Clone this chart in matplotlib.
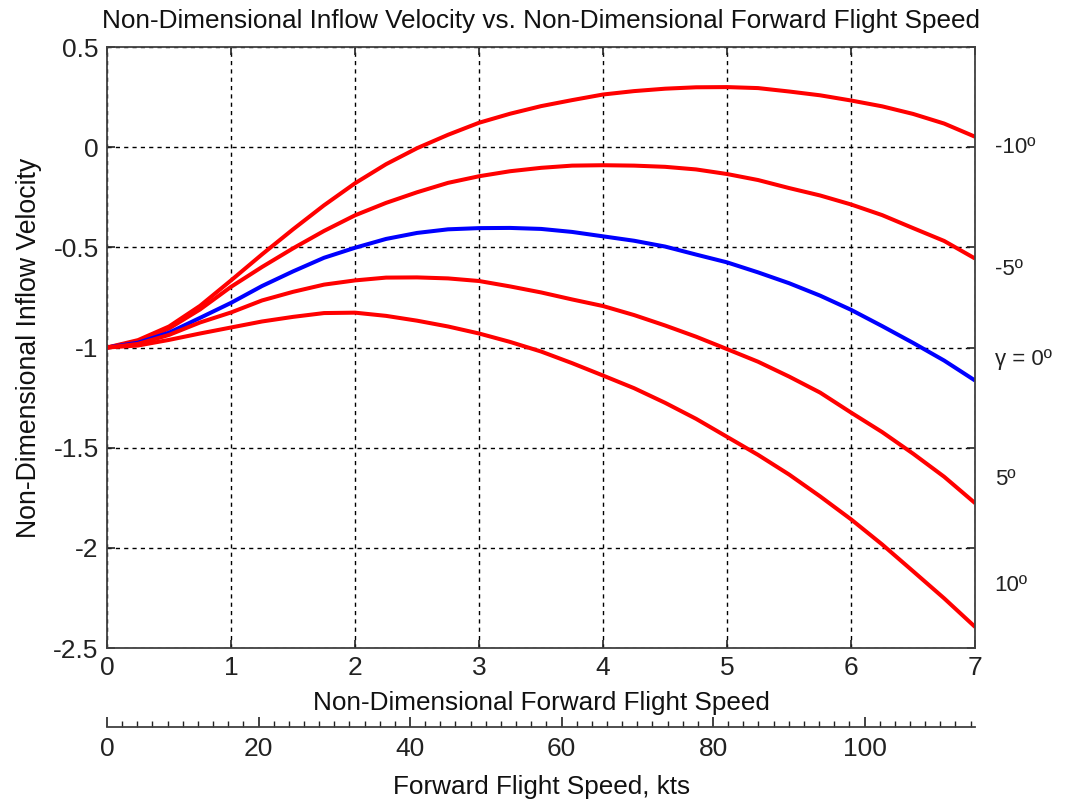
import matplotlib
matplotlib.use("Agg")
import matplotlib.pyplot as plt
from matplotlib.ticker import MultipleLocator

plt.rcParams['font.family'] = ['Liberation Sans', 'DejaVu Sans']

# Non-dimensional forward flight speed samples
mu = [0, 0.25, 0.5, 0.75, 1, 1.25, 1.5, 1.75, 2, 2.25, 2.5, 2.75, 3, 3.25, 3.5,
      3.75, 4, 4.25, 4.5, 4.75, 5, 5.25, 5.5, 5.75, 6, 6.25, 6.5, 6.75, 7]

# Non-dimensional inflow velocity for each flight path angle
inflow_m10 = [-1, -0.963, -0.895, -0.792, -0.665, -0.535, -0.41, -0.29, -0.18,
              -0.085, -0.005, 0.062, 0.122, 0.167, 0.205, 0.235, 0.263, 0.28,
              0.292, 0.299, 0.30, 0.295, 0.278, 0.259, 0.233, 0.204, 0.166,
              0.118, 0.052]
inflow_m5 = [-1, -0.97, -0.905, -0.81, -0.697, -0.598, -0.505, -0.418, -0.34,
             -0.278, -0.225, -0.178, -0.145, -0.12, -0.103, -0.092, -0.09,
             -0.092, -0.098, -0.111, -0.134, -0.164, -0.204, -0.241, -0.286,
             -0.339, -0.404, -0.468, -0.556]
inflow_0 = [-1, -0.976, -0.926, -0.852, -0.777, -0.693, -0.62, -0.552, -0.502,
            -0.458, -0.428, -0.41, -0.404, -0.403, -0.408, -0.423, -0.445,
            -0.467, -0.496, -0.536, -0.575, -0.625, -0.679, -0.741, -0.812,
            -0.893, -0.977, -1.065, -1.165]
inflow_p5 = [-1, -0.982, -0.937, -0.875, -0.825, -0.765, -0.722, -0.686, -0.665,
             -0.651, -0.65, -0.655, -0.668, -0.695, -0.725, -0.76, -0.793,
             -0.838, -0.89, -0.946, -1.008, -1.071, -1.145, -1.225, -1.325,
             -1.422, -1.53, -1.645, -1.777]
inflow_p10 = [-1, -0.99, -0.962, -0.93, -0.9, -0.87, -0.847, -0.828, -0.826,
              -0.842, -0.866, -0.895, -0.93, -0.972, -1.02, -1.078, -1.14,
              -1.203, -1.276, -1.356, -1.446, -1.536, -1.634, -1.743, -1.858,
              -1.983, -2.117, -2.252, -2.395]

curve_labels = ['-10º', '-5º', 'γ = 0º', '5º', '10º']
label_y = [0.0, -0.61, -1.06, -1.66, -2.19]

x_ticks = [0, 1, 2, 3, 4, 5, 6, 7]
y_ticks = [-2.5, -2, -1.5, -1, -0.5, 0, 0.5]
y_tick_labels = ['-2.5', '-2', '-1.5', '-1', '-0.5', '0', '0.5']
kts_ticks = [0, 20, 40, 60, 80, 100]
kts_max = 114.6

fig = plt.figure(figsize=(10.69, 8.08), dpi=100)
ax = fig.add_axes([0.1001, 0.198, 0.8121, 0.7438])

series = [(inflow_m10, 'red'), (inflow_m5, 'red'), (inflow_0, 'blue'),
          (inflow_p5, 'red'), (inflow_p10, 'red')]
for vals, col in series:
    ax.plot(mu, vals, color=col, lw=2.9, solid_joinstyle='round',
            solid_capstyle='butt')

ax.set_xlim(0, 7)
ax.set_ylim(-2.5, 0.5)
ax.set_xticks(x_ticks)
ax.set_yticks(y_ticks)
ax.set_yticklabels(y_tick_labels)
ax.grid(True, color='black', lw=1.0, linestyle=(0, (3, 3)))
ax.tick_params(direction='in', length=6, width=1.2, top=True, right=True,
               labelsize=19, pad=6, colors='#222222')
for sp in ax.spines.values():
    sp.set_color('#404040')
    sp.set_linewidth(1.3)

ax.set_title('Non-Dimensional Inflow Velocity vs. Non-Dimensional Forward Flight Speed',
             fontsize=18.8, pad=14, color='#111111')
ax.set_ylabel('Non-Dimensional Inflow Velocity', fontsize=19.2, labelpad=8, color='#111111')
ax.set_xlabel('Non-Dimensional Forward Flight Speed', fontsize=18.8, labelpad=8, color='#111111')

for txt, yv in zip(curve_labels, label_y):
    ax.text(1.0225, yv, txt, transform=ax.get_yaxis_transform(), fontsize=16,
            va='center', ha='left', color='#222222')

# Secondary speed scale in knots
ax2 = fig.add_axes([0.1001, 1 - 727 / 808, 0.8121, 0.001])
ax2.set_xlim(0, kts_max)
ax2.set_ylim(0, 1)
ax2.set_xticks(kts_ticks)
ax2.xaxis.set_minor_locator(MultipleLocator(2))
ax2.set_yticks([])
for name in ['top', 'left', 'right']:
    ax2.spines[name].set_visible(False)
ax2.spines['bottom'].set_color('#404040')
ax2.spines['bottom'].set_linewidth(1.3)
ax2.patch.set_visible(False)
ax2.tick_params(axis='x', which='major', direction='in', length=7, width=1.2,
                labelsize=19, pad=7, colors='#222222')
ax2.tick_params(axis='x', which='minor', direction='in', length=4, width=1.0,
                colors='#222222')
ax2.set_xlabel('Forward Flight Speed, kts', fontsize=18.8, labelpad=10, color='#111111')

fig.savefig('out.png', dpi=100)
